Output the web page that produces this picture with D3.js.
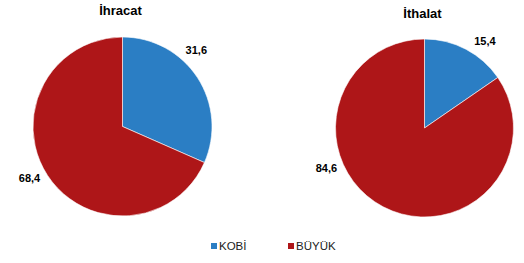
<!DOCTYPE html>
<html>
<head>
<meta charset="utf-8">
<script src="https://cdn.jsdelivr.net/npm/d3@7"></script>
<style>
  body { margin: 0; background: #fff; }
  text { font-family: "Liberation Sans", Arial, sans-serif; }
</style>
</head>
<body>
<svg width="524" height="263"></svg>
<script>
// data
var categories = ["KOBİ", "BÜYÜK"];
var chartTitles = ["İhracat", "İthalat"];
var ihracat = [31.6, 68.4];
var ithalat = [15.4, 84.6];

var svg = d3.select("svg");

var color = d3.scaleOrdinal()
	.domain(categories)
	.range(["#2B7EC4", "#AE1618"]);

var fmt = function (v) { return d3.format(".1f")(v).replace(".", ","); };

var pie = d3.pie().sort(null).value(function (d) { return d.value; });

// layout of the two pies (Excel style outside labels, nudged around)
var charts = [
	{ title: chartTitles[0], values: ihracat, cx: 122.5, cy: 126.5, r: 89.5, titleY: 15, labelShift: [-13, 4] },
	{ title: chartTitles[1], values: ithalat, cx: 424.5, cy: 128, r: 89, titleY: 18, labelShift: [7, 40] }
];

charts.forEach(function (c) {
	var data = c.values.map(function (v, i) { return { name: categories[i], value: v }; });
	var arcs = pie(data);
	var arc = d3.arc().innerRadius(0).outerRadius(c.r);

	var g = svg.append("g").attr("transform", "translate(" + c.cx + "," + c.cy + ")");

	g.selectAll("path")
		.data(arcs)
		.enter().append("path")
		.attr("d", arc)
		.attr("fill", function (d) { return color(d.data.name); })
		.attr("stroke", "#fff")
		.attr("stroke-width", 0.6);

	svg.append("text")
		.attr("x", c.cx - 2)
		.attr("y", c.titleY)
		.attr("text-anchor", "middle")
		.attr("font-size", 13)
		.attr("font-weight", "bold")
		.text(c.title);

	g.selectAll("text.lbl")
		.data(arcs)
		.enter().append("text")
		.attr("class", "lbl")
		.attr("font-size", 11)
		.attr("font-weight", "bold")
		.attr("text-anchor", "middle")
		.attr("dy", "0.35em")
		.attr("x", function (d, i) {
			var a = (d.startAngle + d.endAngle) / 2 + c.labelShift[i] * Math.PI / 180;
			return Math.sin(a) * (c.r + 17);
		})
		.attr("y", function (d, i) {
			var a = (d.startAngle + d.endAngle) / 2 + c.labelShift[i] * Math.PI / 180;
			return -Math.cos(a) * (c.r + 17);
		})
		.text(function (d) { return fmt(d.data.value); });
});

// legend
var legend = svg.append("g").attr("class", "legend");
var legendX = d3.scalePoint().domain(categories).range([211, 288]);

var item = legend.selectAll("g")
	.data(categories)
	.enter().append("g")
	.attr("transform", function (d) { return "translate(" + legendX(d) + ",249)"; });

item.append("rect")
	.attr("x", 0).attr("y", -6)
	.attr("width", 6).attr("height", 6)
	.attr("fill", function (d) { return color(d); });

item.append("text")
	.attr("x", 8)
	.attr("y", 0)
	.attr("dy", "0.05em")
	.attr("font-size", 11.5)
	.attr("fill", "#222")
	.text(function (d) { return d; });
</script>
</body>
</html>
